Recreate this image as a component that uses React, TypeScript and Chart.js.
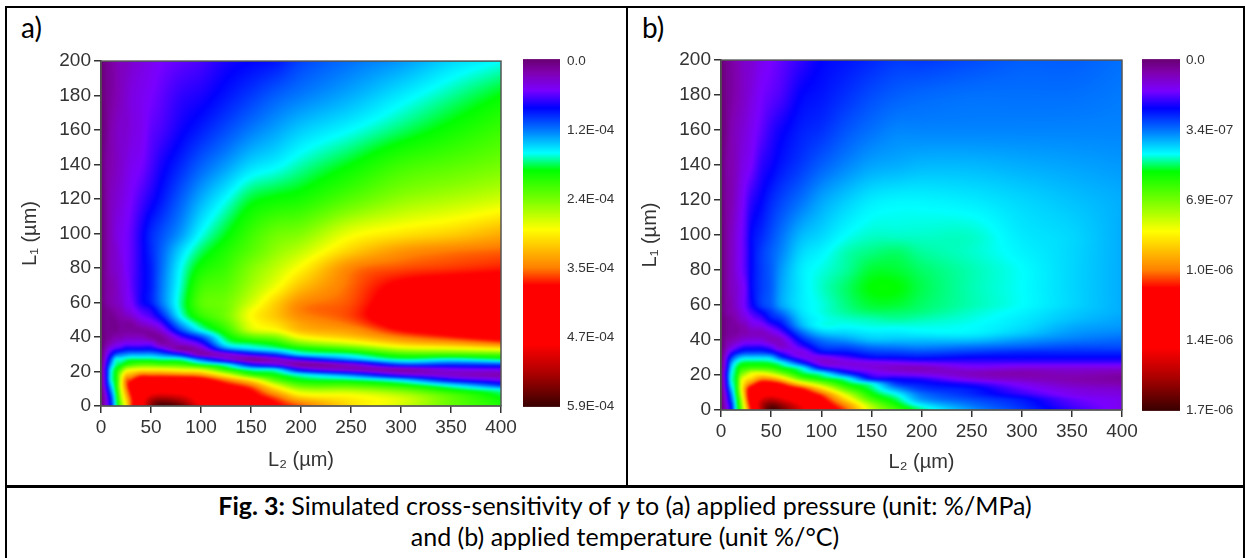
import React, { useEffect, useRef } from "react";
import { Chart, registerables } from "chart.js";

Chart.register(...registerables);

// L2 columns and L1 rows (µm) of the simulated maps
const L2_COLUMNS = [0, 5, 10, 15, 20, 25, 30, 40, 50, 60, 80, 100, 125, 150, 175, 200, 250, 300, 350, 400];
const L1_ROWS = [0, 3, 6, 9, 12, 15, 18, 21, 24, 27, 30, 33, 36, 40, 44, 48, 52, 56, 60, 70, 80, 90, 100, 120, 140, 160, 180, 200];

// Map values per L2 column, in percent of the colour bar's maximum
const PRESSURE_PERCENT = [
  [0,0,0,0,0,0,0,0,0,0,0,0,0,0,0,0,0,0,0,0,0,0,0,0,0,0,0,0],
  [7,7,8,10,12,13,13,13,11,9,7,5,3,2,2,2,2,2,3,3,3,3,3,3,3,2,2,2],
  [15,16,18,21,24,27,27,26,22,18,13,9,5,3,2,2,2,3,4,4,5,5,5,5,4,4,3,3],
  [28,29,30,32,33,33,33,32,29,27,18,11,7,4,2,2,3,4,5,5,6,6,7,6,5,5,4,4],
  [40,42,44,46,48,47,45,38,31,27,20,12,8,4,3,3,4,5,6,7,7,8,8,7,6,6,5,5],
  [50,52,55,58,60,60,54,46,34,29,21,14,9,5,3,3,5,7,8,8,9,9,9,8,7,6,6,5],
  [62,62,64,66,68,63,56,48,36,30,22,14,9,5,3,3,6,8,9,10,10,10,10,9,8,7,7,6],
  [78,78,76,74,73,70,61,50,38,30,22,14,9,5,3,6,9,11,13,13,13,13,13,11,9,8,8,7],
  [93,90,84,78,74,70,61,50,38,30,22,14,9,3,4,8,11,13,15.5,15.5,15.5,16,16,13,11,10,9,8],
  [99,94,86,80,75,70,61,50,37,29,20,11,4,3,7,11,15,18,20,20,19.5,19,18,15,13,11,10,9],
  [96,90,84,78,74,70,60,48,36,28,14,3,6,11,18,23,27,28.5,29,28,27,25,22,19,16,13.5,12,10],
  [83,80,78,75,71,68,58,46,31,19,4,6,11,18,27,31,35,37,38,36,33,30,27,23,19,15.5,13,11],
  [78,75,72,70,66,60,48,35,26,9,7,20,27,31,35,38,40,40,40,38,36,34,31.5,27,22,18,15,13],
  [72,70,67,65,60,51,36,28,14,3,13,25,30,38,46,48,49,48,46,43,41,38,36,31,25,20.5,17,14],
  [66,64,60,54,47,38,32,26,9,6,18,28,33,41,49,52,54,54,53,48,45,42,39.5,32.5,26.5,22.5,19,15],
  [62,57,51,45,38,32,27,13,3,12,26,32,40,49,55,57,59,60,59,54,49.5,45,41,33.5,28.5,24.5,20.5,17.5],
  [52,51,49,44,37,30,20,6,7,22,29,37,46,54,58,61,62.5,62.5,62,61,59.5,53,48,38,32,27,23,20],
  [46,47,45,40,33,25,10,4,18,29,36,45,53,60,65,68,70,70,69,66,62,58,51,42,36,30,26,22],
  [39,39,38,33,26,14,6,8,17,27,37,47,56,64,68,71,72,72,72,68,63,60,53,44,38,33,29,25],
  [34,33,31,28,17,9,4,9,18,30,38,50,60,68,72,74,75,75,74,69,64,61,56,46,40,36,32,27],
];

const TEMPERATURE_PERCENT = [
  [0,0,0,0,0,0,0,0,0,0,0,0,0,0,0,0,0,0,0,0,0,0,0,0,0,0,0,0],
  [6,7,8,9,11,12,13,13,11,10,8,6,4,3,2,2,2,3,3,3,3,3,3,3,3,2,2,2],
  [14,15,18,20,23,26,27,26,24,21,16,11,7,4,3,3,3,4,4,5,5,5,5,4,4,4,3,3],
  [27,28,29,31,32,32,32,31,30,27,21,14,9,5,3,3,4,5,6,6,7,7,7,6,5,5,4,4],
  [38,40,42,45,47,47,45,39,34,30,24,16,11,6,4,4,6,7,8,8,9,9,9,8,7,6,5,5],
  [52,55,58,60,60,55,50,43,35,31,25,17,12,7,4,5,7,9,10,10,11,11,11,10,8,7,6,6],
  [65,68,70,70,68,60,52,47,36,31,25,17,12,7,5,7,9,11,13,14,14,14,14,12,9,8,7,6],
  [88,88,84,78,70,67,58,48,36,31,25,17,12,7,5,8,11,14,17,17,17,17,16,14,12,10,9,8],
  [99,95,88,80,73,67,57,45,35,30,24,15,10,5,7,11,15,17,19,19,19,19,18,16,13.5,12,10,9],
  [96,92,85,78,70,64,52,40,32,27,17,11,6,6,10,14,17,20,22.5,22.5,22,21,20,17.5,15,13.5,11,10],
  [85,82,76,70,65,52,38,31,27,16,9,7.5,11,15,19,23,24.5,25.5,26,26,26,25,23.5,20,17,15.5,14,12],
  [72,70,67,62,53,42,32,27,14,7,8,14,17,20,24,27,27,27.5,27.5,28,27.5,26.5,25,22.5,19,16.5,15,14],
  [62,58,52,46,38,32,27,16,9,7,11,15,18,22,25,27,28,29,29.5,30,29,28.5,27,24.5,21,18.5,16.5,15],
  [46,43,37,33,30,27,14,10,7,8,14,17,20,24,26,27.5,28.5,30,31,32,31,29.5,28,26,22.5,20,18,16],
  [37,33,30,27,22,17,13,8,5.5,9,14.5,17.5,20.5,24,26,27.5,29,30,31,32,31,30,28,26.5,23,21,19,17],
  [30,26,22,20,17,15,12,7,5,10,15,18,21,24,26.5,27.5,28.5,29.5,30,30.5,30,29,28,26.5,23.5,21,19.5,17],
  [22,20,18,16,15,12,7,5,8,11,14,17,20,24,26.5,27,27.5,28,28.5,28.5,28.5,28,28,26,23.5,21,20,18],
  [17,16,15,12,10,8,5,4,7,11,14,16,19,22,24.5,25.5,26,26.5,27,27,27,26.5,26,25,23,21,20,19],
  [12,11,10,8,7,5,4,5,7,11,14,16,18,20.5,22,23,24,24.5,25,25,25,25,25,24,22.5,21,20,19],
  [8,8,8,7,6,4,3,4,7,11,14,16,18,19.5,21,22,22.5,23,23,23,23,23,23,23,22,21,20.5,20],
];

const PRESSURE_MAX = 5.9e-4;
const TEMPERATURE_MAX = 1.7e-6;
const PRESSURE_TICKS = ["0.0", "1.2E-04", "2.4E-04", "3.5E-04", "4.7E-04", "5.9E-04"];
const TEMPERATURE_TICKS = ["0.0", "3.4E-07", "6.9E-07", "1.0E-06", "1.4E-06", "1.7E-06"];
const BAR_FRACTIONS = [0, 0.2, 0.4, 0.6, 0.8, 1];

const COLOR_POSITIONS = [0, 0.04, 0.09, 0.14, 0.2, 0.27, 0.32, 0.41, 0.49, 0.6, 0.65, 0.82, 0.9, 1];
const COLOR_STOPS = [
  [104, 0, 112], [128, 0, 176], [122, 0, 255], [0, 0, 255], [0, 112, 255], [0, 255, 255], [0, 255, 0],
  [128, 255, 0], [255, 255, 0], [255, 128, 0], [255, 0, 0], [255, 0, 0], [176, 0, 0], [56, 0, 0],
];

const FONT = '"Liberation Sans", Arial, sans-serif';
const TEXT = "#333333";
const AXIS = "#333333";

function colorAt(t: number) {
  const v = Math.min(1, Math.max(0, t));
  let i = 0;
  while (i < COLOR_POSITIONS.length - 2 && v > COLOR_POSITIONS[i + 1]) i++;
  const f = (v - COLOR_POSITIONS[i]) / (COLOR_POSITIONS[i + 1] - COLOR_POSITIONS[i]);
  return COLOR_STOPS[i].map((c, k) => c + (COLOR_STOPS[i + 1][k] - c) * f);
}

// Smooth shading between the typed grid values, for display only
function shade(xs: number[], ys: number[], x: number) {
  let i = 0;
  while (i < xs.length - 2 && x > xs[i + 1]) i++;
  const h = xs[i + 1] - xs[i];
  const slope = (k: number) => {
    const a = Math.max(0, k - 1);
    const b = Math.min(xs.length - 1, k + 1);
    return (ys[b] - ys[a]) / (xs[b] - xs[a]);
  };
  const t = Math.min(1, Math.max(0, (x - xs[i]) / h));
  const t2 = t * t;
  const t3 = t2 * t;
  return (
    (2 * t3 - 3 * t2 + 1) * ys[i] + (t3 - 2 * t2 + t) * h * slope(i) +
    (-2 * t3 + 3 * t2) * ys[i + 1] + (t3 - t2) * h * slope(i + 1)
  );
}

const heatPlugin = {
  id: "heat",
  beforeDatasetsDraw(chart: any, _a: any, opts: any) {
    const { ctx, chartArea, scales } = chart;
    const left = Math.round(chartArea.left);
    const top = Math.round(chartArea.top);
    const w = Math.round(chartArea.right) - left;
    const h = Math.round(chartArea.bottom) - top;
    const pct: number[][] = opts.grid;
    const lut = new Uint8ClampedArray(4096 * 3);
    for (let i = 0; i < 4096; i++) {
      const c = colorAt(i / 4095);
      lut[i * 3] = c[0]; lut[i * 3 + 1] = c[1]; lut[i * 3 + 2] = c[2];
    }
    const img = ctx.createImageData(w, h);
    const px = img.data;
    const xv = Array.from({ length: w }, (_, i) => scales.x.getValueForPixel(left + i + 0.5));
    const yv = Array.from({ length: h }, (_, j) => scales.y.getValueForPixel(top + j + 0.5));
    for (let j = 0; j < h; j++) {
      const rowAtColumns = pct.map((col) => shade(L1_ROWS, col, yv[j]));
      for (let i = 0; i < w; i++) {
        const v = shade(L2_COLUMNS, rowAtColumns, xv[i]);
        const k = Math.round((Math.min(100, Math.max(0, v)) / 100) * 4095) * 3;
        const o = (j * w + i) * 4;
        px[o] = lut[k]; px[o + 1] = lut[k + 1]; px[o + 2] = lut[k + 2]; px[o + 3] = 255;
      }
    }
    const off = document.createElement("canvas");
    off.width = w;
    off.height = h;
    off.getContext("2d")!.putImageData(img, 0, 0);
    ctx.save();
    ctx.beginPath();
    ctx.rect(left, top, w, h);
    ctx.clip();
    ctx.drawImage(off, left, top);
    ctx.filter = "blur(1px)";
    ctx.drawImage(off, left, top);
    ctx.restore();
  },
  afterDraw(chart: any, _a: any, opts: any) {
    const { ctx, chartArea, scales } = chart;
    const c = scales.c;
    const y0 = c.getPixelForValue(0) - opts.barOver;
    const y1 = c.getPixelForValue(c.max) + 1;
    const g = ctx.createLinearGradient(0, y0, 0, y1);
    COLOR_POSITIONS.forEach((p, i) => g.addColorStop(p, `rgb(${COLOR_STOPS[i].join(",")})`));
    ctx.fillStyle = g;
    ctx.fillRect(chartArea.right + opts.barGap, y0, opts.barWidth, y1 - y0);
    ctx.strokeStyle = "#555555";
    ctx.lineWidth = 1.5;
    ctx.strokeRect(chartArea.left, chartArea.top, chartArea.width, chartArea.height);
  },
};

function makeChart(canvas: HTMLCanvasElement, p: any) {
  const points: any[] = [];
  L2_COLUMNS.forEach((x, i) => L1_ROWS.forEach((y, j) => points.push({ x, y, v: (p.grid[i][j] / 100) * p.max })));
  return new Chart(canvas, {
    type: "scatter",
    data: { datasets: [{ data: points, pointRadius: 0, pointHoverRadius: 0 }] },
    plugins: [heatPlugin],
    options: {
      animation: false,
      responsive: false,
      devicePixelRatio: 1,
      events: [],
      layout: { padding: 0 },
      plugins: {
        legend: { display: false },
        tooltip: { enabled: false },
        heat: { grid: p.grid, barGap: p.barGap, barWidth: p.barWidth, barOver: p.barOver },
      },
      scales: {
        x: {
          type: "linear", min: 0, max: 400,
          afterFit: (s: any) => { s.height = p.xHeight; },
          ticks: { stepSize: 50, maxRotation: 0, color: TEXT, padding: 3, font: { family: FONT, size: 19 } },
          grid: { drawOnChartArea: false, drawTicks: true, tickLength: 7, color: AXIS, lineWidth: 1.5 },
          border: { color: AXIS, width: 1.5 },
          title: { display: true, text: "L₂ (µm)", color: TEXT, align: "center", padding: { top: 0, bottom: p.xTitleBottom }, font: { family: FONT, size: 20 } },
        },
        y: {
          type: "linear", min: 0, max: 200,
          afterFit: (s: any) => { s.width = p.yWidth; },
          ticks: { stepSize: 20, color: TEXT, padding: 3, font: { family: FONT, size: 19 } },
          grid: { drawOnChartArea: false, drawTicks: true, tickLength: 7, color: AXIS, lineWidth: 1.5 },
          border: { color: AXIS, width: 1.5 },
          title: { display: true, text: "L₁ (µm)", color: TEXT, padding: { top: p.yTitleTop, bottom: 0 }, font: { family: FONT, size: 20 } },
        },
        c: {
          type: "linear", axis: "y", position: "right", reverse: true, min: 0, max: p.max,
          afterFit: (s: any) => { s.width = p.cWidth; },
          afterBuildTicks: (s: any) => { s.ticks = BAR_FRACTIONS.map((f) => ({ value: f * p.max })); },
          ticks: {
            autoSkip: false, color: TEXT, padding: p.cPad, crossAlign: "near",
            font: { family: FONT, size: 13.5 },
            callback: (_v: any, i: number) => p.labels[i],
          },
          grid: { display: false, drawTicks: false },
          border: { display: false },
        },
      },
    } as any,
  });
}

const line = (left: number, top: number, width: number, height: number, color = "#000"): React.CSSProperties => ({
  position: "absolute", left, top, width, height, background: color,
});

export default function App() {
  const a = useRef<HTMLCanvasElement>(null);
  const b = useRef<HTMLCanvasElement>(null);
  useEffect(() => {
    const ca = makeChart(a.current!, {
      grid: PRESSURE_PERCENT, max: PRESSURE_MAX, labels: PRESSURE_TICKS, xHeight: 73, yWidth: 93,
      cWidth: 123, cPad: 66, barGap: 22, barWidth: 37, barOver: 2, xTitleBottom: 6, yTitleTop: 10,
    });
    const cb = makeChart(b.current!, {
      grid: TEMPERATURE_PERCENT, max: TEMPERATURE_MAX, labels: TEMPERATURE_TICKS, xHeight: 72, yWidth: 89,
      cWidth: 118, cPad: 64, barGap: 20, barWidth: 38, barOver: 1, xTitleBottom: 7, yTitleTop: 6,
    });
    return () => { ca.destroy(); cb.destroy(); };
  }, []);
  const label: React.CSSProperties = { position: "absolute", top: 10, font: '28px Lato, sans-serif', color: "#000" };
  const cap: React.CSSProperties = {
    position: "absolute", left: 6, width: 1238, textAlign: "center", font: '25px Lato, sans-serif', color: "#000", whiteSpace: "nowrap",
  };
  return (
    <div style={{ position: "fixed", left: 0, top: 0, width: 1245, height: 558, background: "#fff", overflow: "hidden" }}>
      <div style={line(5, 6, 1240, 2)} />
      <div style={line(5, 6, 2, 552)} />
      <div style={line(1243, 6, 2, 552)} />
      <div style={line(626, 6, 2, 479)} />
      <div style={line(5, 485, 1240, 3)} />
      <div style={{ ...label, left: 21 }}>a)</div>
      <div style={{ ...label, left: 642 }}>b)</div>
      <canvas ref={a} width={616} height={493} style={{ position: "absolute", left: 8, top: -13 }} />
      <canvas ref={b} width={608} height={494} style={{ position: "absolute", left: 632, top: -12 }} />
      <div style={{ ...cap, top: 490 }}>
        <b>Fig. 3:</b> Simulated cross-sensitivity of <i>γ</i> to (a) applied pressure (unit: %/MPa)
      </div>
      <div style={{ ...cap, top: 521 }}>and (b) applied temperature (unit %/°C)</div>
    </div>
  );
}
